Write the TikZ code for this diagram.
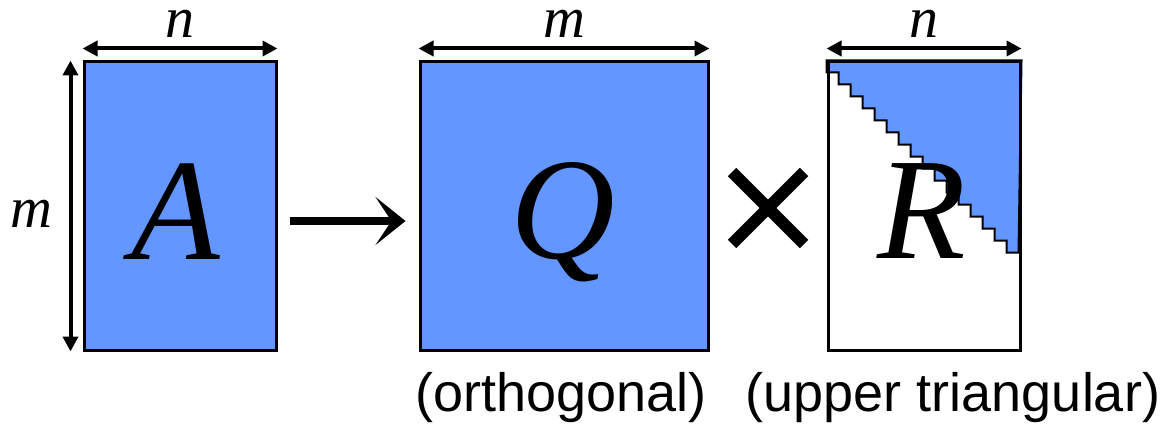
\documentclass[tikz,border=0pt]{standalone}
\usepackage{fontspec}
\setmainfont{Liberation Serif}[ItalicFont={Liberation Serif Italic}]
\newfontfamily\capfont{Liberation Sans}
\usetikzlibrary{arrows.meta,calc,backgrounds}
\definecolor{matblue}{RGB}{100,150,255}

\begin{document}
\begin{tikzpicture}[
    x=1pt, y=-1pt,
    mat/.style={draw, line width=3pt, inner sep=0pt, minimum height=288pt},
    big/.style={font=\fontsize{145}{150}\selectfont\itshape, anchor=base, inner sep=0pt},
    lbl/.style={font=\fontsize{58}{60}\selectfont\itshape, inner sep=0pt},
    dim/.style={{Triangle[length=15pt,width=15pt]}-{Triangle[length=15pt,width=15pt]}, line width=4pt},
    arr/.style={-{Stealth[length=30pt,width=48pt,inset=16pt]}, line width=8pt},
    cross/.style={line width=12pt},
    caption/.style={font=\capfont\fontsize{54}{60}\selectfont, anchor=base, inner sep=0pt},
  ]
  \useasboundingbox (0,0) rectangle (1161,425);
  \node[mat, fill=matblue, minimum width=192pt] (A) at (180,206) {};
  \node[mat, fill=matblue, minimum width=288pt] (Q) at (564,206) {};
  \node[mat, minimum width=192pt] (R) at (924,206) {};
  % upper triangle of R, staircase edge
  \begin{scope}[on background layer]
    \draw[line width=2pt, fill=matblue] (R.north west)
      foreach \i in {1,...,16} { -- ++(0,12) -- ++(12,0) } -- (R.north east) -- cycle;
  \end{scope}
  \node[big] (lA) at ($(A.center)+(-4,53)$) {A};
  \node[big] (lQ) at ($(Q.center)+(-1,52)$) {Q};
  \node[big] (lR) at ($(R.center)+(-2,52)$) {R};
  % sizes
  \draw[dim] ([yshift=12pt]A.north west) -- node[lbl, above=9pt] (nA) {n} ([yshift=12pt]A.north east);
  \draw[dim] ([yshift=12pt]Q.north west) -- node[lbl, above=9pt] (mQ) {m} ([yshift=12pt]Q.north east);
  \draw[dim] ([yshift=12pt]R.north west) -- node[lbl, above=9pt] (nR) {n} ([yshift=12pt]R.north east);
  \draw[dim] ([xshift=-12pt]A.north west) -- node[lbl, left=16pt, yshift=-8pt] (mA) {m} ([xshift=-12pt]A.south west);
  \draw[arr, shorten <=12pt, shorten >=13pt] ([yshift=-15pt]A.east) -- ([yshift=-15pt]Q.west);
  \coordinate (mid) at ($(Q.east)!0.5!(R.west)+(0,2)$);
  \draw[cross] ($(mid)+(-36,-36)$) -- ($(mid)+(36,36)$);
  \draw[cross] ($(mid)+(-36,36)$) -- ($(mid)+(36,-36)$);
  \node[caption] (cQ) at ($(Q.south)+(-3,60)$) {(orthogonal)};
  \node[caption] (cR) at ($(R.south)+(29,60)$) {(upper triangular)};
\end{tikzpicture}
\end{document}
